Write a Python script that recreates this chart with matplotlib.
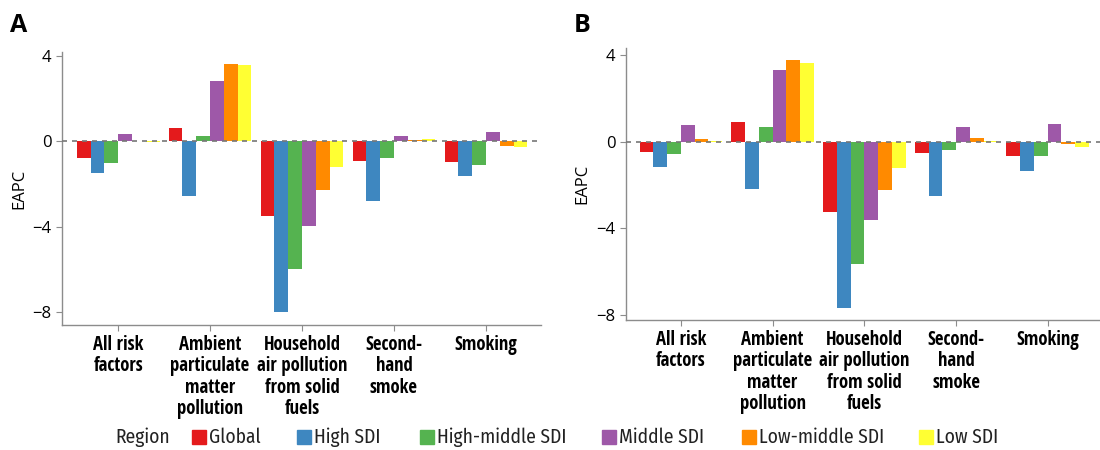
import matplotlib
matplotlib.use("Agg")
import matplotlib.pyplot as plt
from matplotlib.patches import Rectangle
import numpy as np
from matplotlib import font_manager

categories = ["All risk\nfactors", "Ambient\nparticulate\nmatter\npollution",
              "Household\nair pollution\nfrom solid\nfuels", "Second-\nhand\nsmoke", "Smoking"]
regions = ["Global", "High SDI", "High-middle SDI", "Middle SDI", "Low-middle SDI", "Low SDI"]
colors = ["#E41A1C", "#3E87C0", "#55B350", "#9E58A8", "#FF8A00", "#FFFF33"]

# EAPC values per region, one value per category
eapc_A = {
    "Global":          [-0.79,  0.61, -3.47, -0.90, -0.95],
    "High SDI":        [-1.48, -2.54, -7.98, -2.77, -1.63],
    "High-middle SDI": [-1.01,  0.26, -5.96, -0.79, -1.10],
    "Middle SDI":      [ 0.37,  2.85, -3.97,  0.25,  0.45],
    "Low-middle SDI":  [ 0.02,  3.61, -2.27,  0.05, -0.22],
    "Low SDI":         [-0.04,  3.56, -1.21,  0.10, -0.26],
}
eapc_B = {
    "Global":          [-0.46,  0.89, -3.23, -0.54, -0.65],
    "High SDI":        [-1.18, -2.20, -7.69, -2.49, -1.34],
    "High-middle SDI": [-0.57,  0.69, -5.65, -0.40, -0.65],
    "Middle SDI":      [ 0.77,  3.31, -3.62,  0.69,  0.83],
    "Low-middle SDI":  [ 0.12,  3.77, -2.22,  0.18, -0.10],
    "Low SDI":         [ 0.02,  3.62, -1.23,  0.03, -0.26],
}
yticks = [4, 0, -4, -8]
yticklabels = ["4", "0", "\u22124", "\u22128"]

fonts = font_manager.fontManager.ttflist
names = {f.name for f in fonts}
cands = ["Open Sans Condensed", "Fira Sans Condensed", "PT Sans Narrow",
         "Cabin Condensed", "Asap Condensed", "Archivo Narrow", "Liberation Sans Narrow"]
bold_font = "DejaVu Sans"
for cand in cands:
    if cand in names:
        bold_font = cand
        break
reg_font = "DejaVu Sans"
for cand in cands:
    if any(f.name == cand and f.weight in (400, "normal", "regular") and f.style == "normal"
           for f in fonts):
        reg_font = cand
        break

fig = plt.figure(figsize=(11, 4.5), dpi=100)
axA = fig.add_axes([0.0564, 0.2778, 0.4355, 0.607])
axB = fig.add_axes([0.569, 0.2889, 0.431, 0.604])

bw = 0.15
x = np.arange(len(categories))
for ax, data, ylim, xlim in [(axA, eapc_A, (-8.6, 4.2), (-0.61, 4.6)),
                             (axB, eapc_B, (-8.23, 4.32), (-0.60, 4.57))]:
    for i, r in enumerate(regions):
        ax.bar(x + (i - 2.5) * bw, data[r], width=bw, color=colors[i],
               edgecolor="none", zorder=2)
    ax.axhline(0, color="#777777", linestyle=(0, (3, 3)), linewidth=1.2, zorder=3)
    ax.set_xlim(*xlim)
    ax.set_ylim(*ylim)
    ax.set_yticks(yticks)
    ax.set_yticklabels(yticklabels, fontsize=12, family="Open Sans")
    ax.set_xticks(x)
    ax.set_xticklabels(categories, fontsize=13.5, family=bold_font, fontweight="bold",
                       linespacing=1.1, va="top")
    ax.set_ylabel("EAPC", fontsize=12, family="Open Sans", labelpad=4)
    for s in ["top", "right"]:
        ax.spines[s].set_visible(False)
    for s in ["left", "bottom"]:
        ax.spines[s].set_color("#8c8c8c")
        ax.spines[s].set_linewidth(1.0)
    ax.tick_params(axis="both", colors="#8c8c8c", length=4, width=0.8, labelcolor="black")
    ax.tick_params(axis="x", pad=3)

fig.text(0.009, 0.93, "A", fontsize=18, fontweight="bold", family="Open Sans")
fig.text(0.522, 0.93, "B", fontsize=18, fontweight="bold", family="Open Sans")

# Legend
ly = 1 - 437 / 450
fig.text(115 / 1100, ly, "Region", fontsize=14, family=reg_font, va="center", ha="left",
         color="#222222")
sq_x = [192, 297, 420, 602, 742, 919]
for i, r in enumerate(regions):
    fig.patches.append(Rectangle((sq_x[i] / 1100, ly - 7 / 450), 14 / 1100, 14 / 450,
                                 transform=fig.transFigure, color=colors[i]))
    fig.text((sq_x[i] + 17) / 1100, ly, r, fontsize=14, family=reg_font,
             va="center", ha="left", color="#222222")

fig.savefig("out.png", dpi=100)
